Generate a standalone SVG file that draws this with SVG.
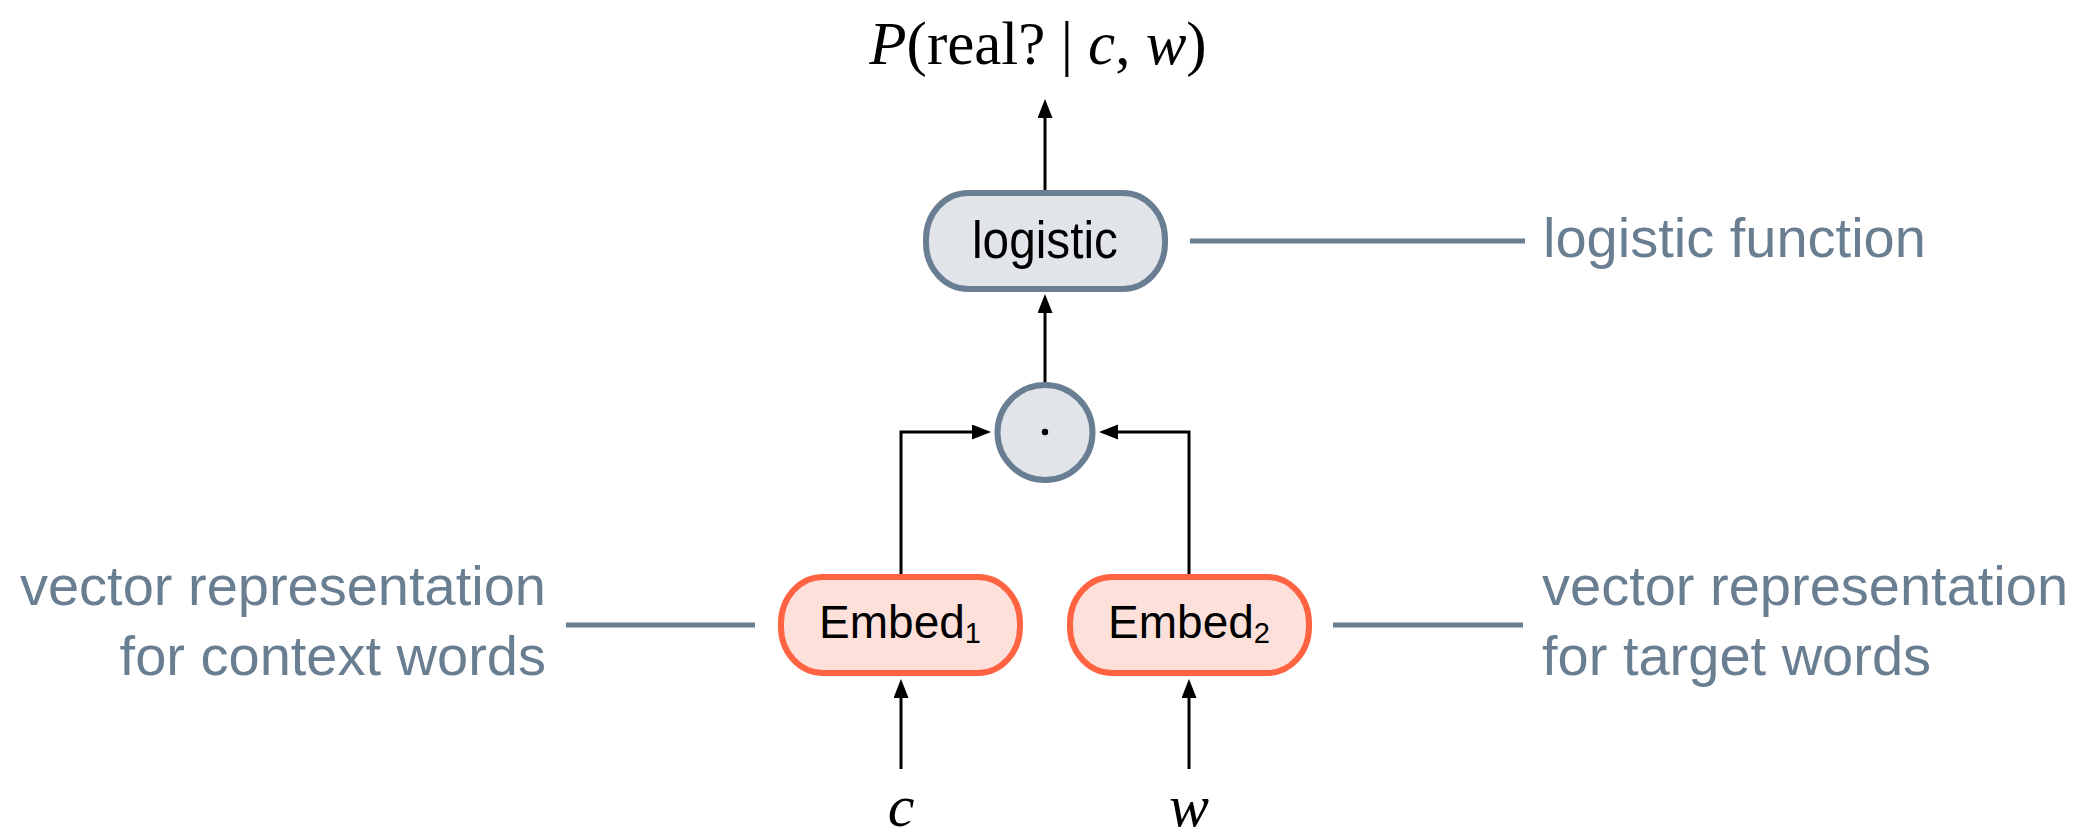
<svg xmlns="http://www.w3.org/2000/svg" width="2079" height="836" viewBox="0 0 2079 836">
  <style>
    .math { font-family: "Liberation Serif", "Times New Roman", serif; fill: #000; }
    .it { font-style: italic; }
    .label { font-family: "Liberation Sans", Arial, sans-serif; fill: #000; text-anchor: middle; }
    .note { font-family: "Liberation Sans", Arial, sans-serif; fill: #6a7e92; font-size: 56px; }
    .gray-node { fill: #e1e4e9; stroke: #6a7e93; stroke-width: 6; }
    .embed-node { fill: #fde0d9; stroke: #ff6342; stroke-width: 6; }
    .edge { fill: none; stroke: #000; stroke-width: 3; marker-end: url(#arrow); }
    .leader { stroke: #6a7e93; stroke-width: 5; fill: none; }
  </style>
  <defs>
    <marker id="arrow" markerUnits="userSpaceOnUse" markerWidth="20" markerHeight="16" refX="7" refY="7.5" orient="auto">
      <path d="M0,0 L19,7.5 L0,15 z" fill="#000"/>
    </marker>
  </defs>

  <rect width="2079" height="836" fill="#fff"/>

  <!-- output probability -->
  <text class="math" x="1038" y="64" font-size="61" text-anchor="middle"><tspan class="it">P</tspan>(real? | <tspan class="it">c</tspan>, <tspan class="it">w</tspan>)</text>

  <!-- connectors -->
  <g id="connectors">
    <path class="edge" d="M1045 190 L1045 111"/>
    <path class="edge" d="M1045 382 L1045 306"/>
    <path class="edge" d="M901 574 L901 432 L979 432"/>
    <path class="edge" d="M1189 574 L1189 432 L1111 432"/>
    <path class="edge" d="M901 769 L901 691"/>
    <path class="edge" d="M1189 769 L1189 691"/>
    <line class="leader" x1="1190" y1="241" x2="1525" y2="241"/>
    <line class="leader" x1="566" y1="625" x2="755" y2="625"/>
    <line class="leader" x1="1333" y1="625" x2="1523" y2="625"/>
  </g>

  <g id="logistic">
    <rect class="gray-node" x="926" y="193" width="239" height="96" rx="42" ry="46"/>
    <text class="label" x="1045" y="258" font-size="51" textLength="146" lengthAdjust="spacingAndGlyphs">logistic</text>
  </g>

  <g id="dot-product">
    <circle class="gray-node" cx="1045" cy="432.5" r="47.5" stroke-width="6.5"/>
    <circle cx="1045" cy="432" r="3.2" fill="#000"/>
  </g>

  <!-- embedding nodes: word plus a smaller, lowered index -->
  <g id="embed1">
    <rect class="embed-node" x="781" y="577" width="239" height="96" rx="42" ry="46"/>
    <text class="label" x="900" y="638" font-size="46">Embed<tspan font-size="29" dy="5">1</tspan></text>
  </g>

  <g id="embed2">
    <rect class="embed-node" x="1070" y="577" width="239" height="96" rx="42" ry="46"/>
    <text class="label" x="1189" y="638" font-size="46">Embed<tspan font-size="29" dy="5">2</tspan></text>
  </g>

  <g id="input-c">
    <text class="math it" x="901" y="826" font-size="60" text-anchor="middle">c</text>
  </g>
  <g id="input-w">
    <text class="math it" x="1189" y="826" font-size="60" text-anchor="middle">w</text>
  </g>

  <!-- annotations -->
  <g id="note-logistic">
    <text class="note" x="1543" y="257">logistic function</text>
  </g>
  <g id="note-context">
    <text class="note" x="546" y="605" text-anchor="end">vector representation</text>
    <text class="note" x="546" y="675" text-anchor="end">for context words</text>
  </g>
  <g id="note-target">
    <text class="note" x="1542" y="605">vector representation</text>
    <text class="note" x="1542" y="675">for target words</text>
  </g>
</svg>
